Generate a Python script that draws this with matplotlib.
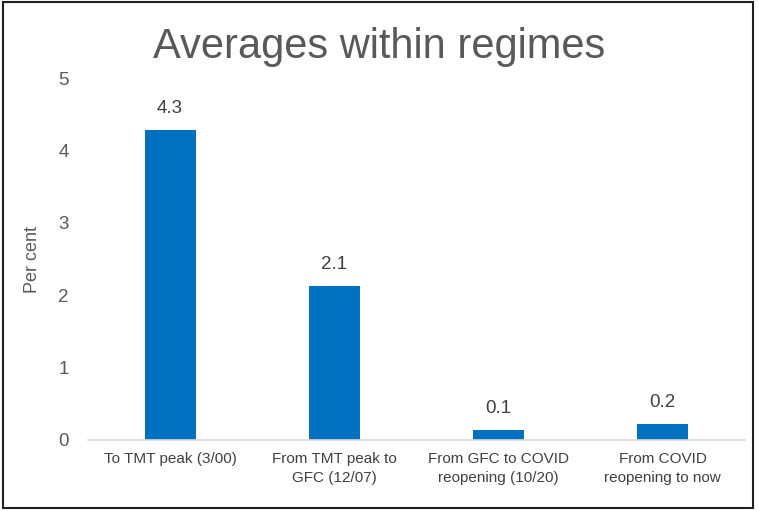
import matplotlib
matplotlib.use("Agg")
from matplotlib import pyplot as plt
from matplotlib.patches import Rectangle

plt.rcParams['font.family'] = ['Liberation Sans', 'DejaVu Sans']

categories = ["To TMT peak (3/00)", "From TMT peak to\nGFC (12/07)",
              "From GFC to COVID\nreopening (10/20)", "From COVID\nreopening to now"]
values = [4.28, 2.13, 0.14, 0.22]
value_labels = ["4.3", "2.1", "0.1", "0.2"]

grey = "#595959"
blue = "#0070C0"

fig = plt.figure(figsize=(7.59, 5.11), dpi=100)
ax = fig.add_axes([0.116, 0.139, 0.865, 0.708])

x = range(len(categories))
bars = ax.bar(x, values, width=0.31, color=blue, zorder=2)
for b, lab in zip(bars, value_labels):
    ax.text(b.get_x() + b.get_width() / 2, b.get_height() + 0.18, lab,
            ha="center", va="bottom", fontsize=13.5, color="#404040")

ax.set_xlim(-0.5, 3.5)
ax.set_ylim(0, 5)
ax.set_yticks([0, 1, 2, 3, 4, 5])
ax.set_xticks(list(x))
ax.set_xticklabels(categories, fontsize=11, color="#404040", linespacing=1.4)
ax.tick_params(axis="y", labelsize=13.5, labelcolor=grey, length=0, pad=14)
ax.tick_params(axis="x", length=0, pad=9)
for s in ["top", "right", "left"]:
    ax.spines[s].set_visible(False)
ax.spines["bottom"].set_color("#D9D9D9")
ax.spines["bottom"].set_linewidth(1.2)
ax.set_ylabel("Per cent", fontsize=13, color=grey, labelpad=12)

fig.text(0.5, 0.908, "Averages within regimes", ha="center", va="center",
         fontsize=30, color=grey)

fig.patches.append(Rectangle((0.004, 0.006), 0.988, 0.99, transform=fig.transFigure,
                             fill=False, edgecolor="#202020", linewidth=1.5))

plt.savefig("out.png", dpi=100)
